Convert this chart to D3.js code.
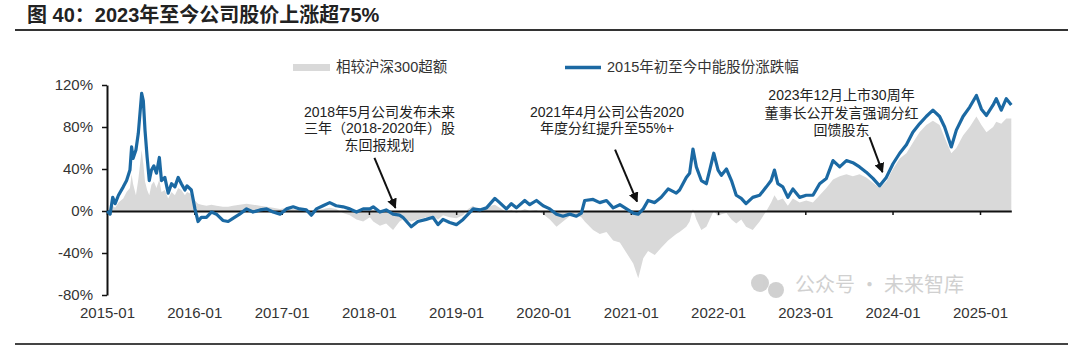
<!DOCTYPE html>
<html>
<head>
<meta charset="utf-8">
<script src="https://cdn.jsdelivr.net/npm/d3@7"></script>
<style>
  body { margin: 0; background: #fff; }
  svg { display: block; font-family: "Liberation Sans", Arial, "Noto Sans CJK SC", sans-serif; }
</style>
</head>
<body>
<div id="chart"></div>
<script>
// dates (approx)
const dates = [
  "2015-01-02","2015-01-14","2015-01-25","2015-02-04","2015-02-18","2015-03-10","2015-03-24","2015-04-07",
  "2015-04-14","2015-04-20","2015-05-02","2015-05-12","2015-05-26","2015-06-02","2015-06-09","2015-06-18",
  "2015-06-27","2015-07-06","2015-07-16","2015-07-27","2015-08-08","2015-08-17","2015-08-31","2015-09-14",
  "2015-09-28","2015-10-12","2015-10-26","2015-11-08","2015-11-23","2015-12-02","2015-12-20","2016-01-04",
  "2016-01-17","2016-01-31","2016-02-21","2016-03-13","2016-04-03","2016-04-30","2016-05-22","2016-06-11",
  "2016-07-09","2016-08-07","2016-09-03","2016-10-02","2016-10-30","2016-11-26","2016-12-25","2017-01-21",
  "2017-02-18","2017-03-17","2017-04-14","2017-05-05","2017-05-26","2017-06-23","2017-07-21","2017-08-17",
  "2017-09-15","2017-10-13","2017-11-10","2017-12-08","2018-01-05","2018-01-19","2018-02-16","2018-03-14",
  "2018-04-12","2018-05-09","2018-05-23","2018-06-27","2018-07-25","2018-08-29","2018-09-26","2018-10-17",
  "2018-11-07","2018-12-05","2019-01-02","2019-01-30","2019-02-20","2019-03-13","2019-04-10","2019-05-08",
  "2019-06-12","2019-07-02","2019-07-30","2019-08-20","2019-09-10","2019-10-15","2019-11-05","2019-12-03",
  "2019-12-31","2020-01-28","2020-02-25","2020-03-23","2020-04-20","2020-05-18","2020-06-08","2020-06-22",
  "2020-07-27","2020-08-24","2020-09-21","2020-10-19","2020-11-16","2020-12-14","2021-01-11","2021-02-01",
  "2021-02-22","2021-03-14","2021-04-11","2021-05-08","2021-06-06","2021-07-10","2021-07-24","2021-08-21",
  "2021-09-04","2021-09-18","2021-10-02","2021-10-23","2021-11-13","2021-11-27","2021-12-14","2022-01-01",
  "2022-01-15","2022-02-05","2022-02-26","2022-03-18","2022-04-08","2022-04-28","2022-05-26","2022-06-24",
  "2022-07-22","2022-08-11","2022-08-25","2022-09-08","2022-09-29","2022-10-20","2022-11-10","2022-12-08",
  "2023-01-05","2023-02-02","2023-03-02","2023-03-30","2023-04-27","2023-05-25","2023-06-22","2023-07-19",
  "2023-08-16","2023-09-13","2023-10-11","2023-11-08","2023-12-06","2024-01-03","2024-01-31","2024-02-28",
  "2024-03-26","2024-04-23","2024-05-21","2024-06-18","2024-07-16","2024-08-06","2024-09-03","2024-09-24",
  "2024-10-22","2024-11-19","2024-12-17","2025-01-07","2025-01-28","2025-02-25","2025-03-10","2025-03-31",
  "2025-04-21","2025-05-12"
]

// 2015年初至今中能股份涨跌幅 (%)
const stockChg = [
  0, -3, 13, 7, 15, 23, 29, 39,
  61, 50, 58, 74, 112, 105, 77, 51,
  29, 39, 43, 36, 51, 29, 32, 17,
  26, 23, 32, 26, 20, 24, 20, 2,
  -10, -6, -6, -1, -3, -9, -10, -7,
  -3, 2, -1, 1, 2, -1, -3, 2,
  4, 2, 1, -4, 2, 5, 8, 5,
  4, 2, -1, 2, 2, 4, -1, 1,
  -3, -4, -6, -15, -10, -8, -6, -13,
  -8, -11, -13, -8, -3, 2, 1, 3,
  12, 8, 2, 7, 3, 10, 6, 10,
  5, 2, -3, -5, -3, -5, -2, 10,
  11, 8, 10, 3, 6, 2, -2, -3,
  2, 10, 8, 13, 21, 17, 20, 32,
  36, 59, 42, 29, 26, 39, 55, 39,
  34, 40, 29, 15, 12, 7, 13, 15,
  23, 29, 39, 26, 23, 13, 21, 13,
  15, 15, 26, 31, 48, 42, 48, 46,
  42, 37, 31, 24, 32, 45, 55, 63,
  75, 83, 90, 96, 90, 80, 61, 77,
  90, 99, 110, 97, 91, 101, 107, 96,
  107, 101
]

// 相较沪深300超额 (%)
const excessRet = [
  0, -1, 5, 3, 8, 12, 18, 22,
  35, 26, 15, 30, 58, 45, 28, 20,
  15, 25, 28, 22, 30, 18, 20, 12,
  18, 15, 22, 20, 15, 18, 16, 10,
  7, 6, 5, 6, 5, 4, 4, 5,
  6, 7, 6, 5, 4, 3, 2, 3,
  2, 1, 2, 0, 1, 2, 3, 2,
  -2, -4, -8, -10, -6, -10, -14, -12,
  -18, -10, -8, -10, -8, -6, -5, -8,
  -4, -6, -7, -4, 2, 5, -2, 4,
  6, 3, -1, 1, -2, 2, 0, 1,
  -3, -8, -15, -10, -5, -4, -6, -10,
  -18, -22, -20, -28, -30, -40, -50, -64,
  -45, -38, -42, -35, -28, -22, -20, -15,
  -10, 2, -8, -18, -15, -8, 0, -5,
  -3, -2, -8, -12, -8, -15, -18, -10,
  0, 8, 15, 10, 12, 5, 12, 8,
  10, 8, 15, 22, 30, 33, 35, 33,
  35, 32, 27, 22, 28, 40, 50, 55,
  65, 75, 82, 86, 82, 70, 55, 60,
  72, 80, 90, 82, 75, 80, 85, 83,
  88, 88
]

const yTicks = [-80, -40, 0, 40, 80, 120]

const notes = [
  { date: "2018-04-22", value: 3, tail: [-21, -50], text: [-16, -96], lh: 16.5,
    lines: ["2018年5月公司发布未来", "三年（2018-2020年）股", "东回报规划"] },
  { date: "2021-01-27", value: 9, tail: [-22, -52], text: [-30, -90], lh: 16.5,
    lines: ["2021年4月公司公告2020", "年度分红提升至55%+"] },
  { date: "2023-11-20", value: 37, tail: [-13, -35], text: [-41, -77], lh: 17.5,
    lines: ["2023年12月上市30周年", "董事长公开发言强调分红", "回馈股东"] }
]

const parse = d3.utcParse("%Y-%m-%d")
const data = dates.map((d, i) => ({ date: parse(d), stock: stockChg[i], excess: excessRet[i] }))

const W = 1080, H = 348
const blue = "#1b69a3", gray = "#d9d9d9"

const svg = d3.select("#chart").append("svg")
  .attr("width", W).attr("height", H)

// title
svg.append("text")
  .attr("x", 27).attr("y", 22)
  .attr("font-size", 20).attr("font-weight", "bold").attr("fill", "#222")
  .text("图  40：2023年至今公司股价上涨超75%")
svg.append("line").attr("x1", 15).attr("x2", 1068).attr("y1", 30).attr("y2", 30)
  .attr("stroke", "#333").attr("stroke-width", 2)
svg.append("line").attr("x1", 15).attr("x2", 1068).attr("y1", 344).attr("y2", 344)
  .attr("stroke", "#444").attr("stroke-width", 2)

// scales: one year is the same width, the axis ends at the last point
const x10 = d3.scaleUtc().domain([parse("2015-01-01"), parse("2025-01-01")]).range([107, 980])
const lastDate = data[data.length - 1].date
const x = d3.scaleUtc().domain([parse("2015-01-01"), lastDate]).range([107, x10(lastDate)])
const y = d3.scaleLinear().domain([-80, 120]).range([295, 85])

// gray excess area
svg.append("path")
  .datum(data)
  .attr("fill", gray)
  .attr("d", d3.area().x(d => x(d.date)).y0(y(0)).y1(d => y(d.excess)))

// x axis on the zero line, labels pushed to the bottom
const xAxis = svg.append("g")
  .attr("transform", `translate(0, ${y(0)})`)
  .call(d3.axisBottom(x).ticks(d3.utcYear.every(1)).tickFormat(d3.utcFormat("%Y-%m"))
    .tickSize(4).tickSizeOuter(0))
xAxis.select(".domain").attr("stroke", "#111").attr("stroke-width", 2)
xAxis.selectAll(".tick line").attr("stroke", "#111").attr("stroke-width", 1.5)
xAxis.selectAll(".tick text")
  .attr("y", 96)
  .attr("font-size", 15).attr("fill", "#333")
  .attr("font-family", "Liberation Sans, Arial, sans-serif")

// y axis
const yAxis = svg.append("g")
  .attr("transform", "translate(107, 0)")
  .call(d3.axisLeft(y).tickValues(yTicks).tickFormat(d => d + "%").tickSize(5).tickPadding(9).tickSizeOuter(0))
yAxis.select(".domain").attr("stroke", "#111").attr("stroke-width", 2)
yAxis.selectAll(".tick line").attr("stroke", "#111").attr("stroke-width", 1.5)
yAxis.selectAll(".tick text")
  .attr("font-size", 15).attr("fill", "#333")
  .attr("font-family", "Liberation Sans, Arial, sans-serif")

// stock line
svg.append("path")
  .datum(data)
  .attr("fill", "none")
  .attr("stroke", blue)
  .attr("stroke-width", 3.2)
  .attr("stroke-linejoin", "round")
  .attr("d", d3.line().x(d => x(d.date)).y(d => y(d.stock)))

// legend
const legend = svg.append("g").attr("font-size", 14.5).attr("fill", "#333")
legend.append("rect").attr("x", 293).attr("y", 64).attr("width", 37).attr("height", 7).attr("fill", gray)
legend.append("text").attr("x", 336).attr("y", 72).text("相较沪深300超额")
legend.append("line").attr("x1", 565).attr("x2", 601).attr("y1", 67.5).attr("y2", 67.5)
  .attr("stroke", blue).attr("stroke-width", 3.5)
legend.append("text").attr("x", 607).attr("y", 72).text("2015年初至今中能股份涨跌幅")

// arrow head
svg.append("defs").append("marker")
  .attr("id", "head")
  .attr("viewBox", "0 0 10 10").attr("refX", 9).attr("refY", 5)
  .attr("markerWidth", 5).attr("markerHeight", 5)
  .attr("orient", "auto")
  .append("path").attr("d", "M0,0L10,5L0,10Z").attr("fill", "#111")

// annotations
notes.forEach(n => {
  const tx = x(parse(n.date)), ty = y(n.value)
  svg.append("line")
    .attr("x1", tx + n.tail[0]).attr("y1", ty + n.tail[1])
    .attr("x2", tx).attr("y2", ty)
    .attr("stroke", "#111").attr("stroke-width", 2)
    .attr("marker-end", "url(#head)")
  const t = svg.append("text")
    .attr("text-anchor", "middle")
    .attr("font-size", 14).attr("fill", "#222")
  n.lines.forEach((s, i) => {
    t.append("tspan")
      .attr("x", tx + n.text[0])
      .attr("y", ty + n.text[1] + i * n.lh + 5)
      .text(s)
  })
})

// faint repost watermark, kept just above the year labels
const wm = svg.append("g").attr("opacity", 0.45).attr("fill", "#999")
wm.append("circle").attr("cx", 760).attr("cy", 283).attr("r", 9)
wm.append("circle").attr("cx", 776).attr("cy", 290).attr("r", 8)
wm.append("text").attr("x", 795).attr("y", 292).attr("font-size", 20)
  .attr("font-family", "Noto Sans CJK SC, sans-serif")
  .text("公众号 · 未来智库")
</script>
</body>
</html>
